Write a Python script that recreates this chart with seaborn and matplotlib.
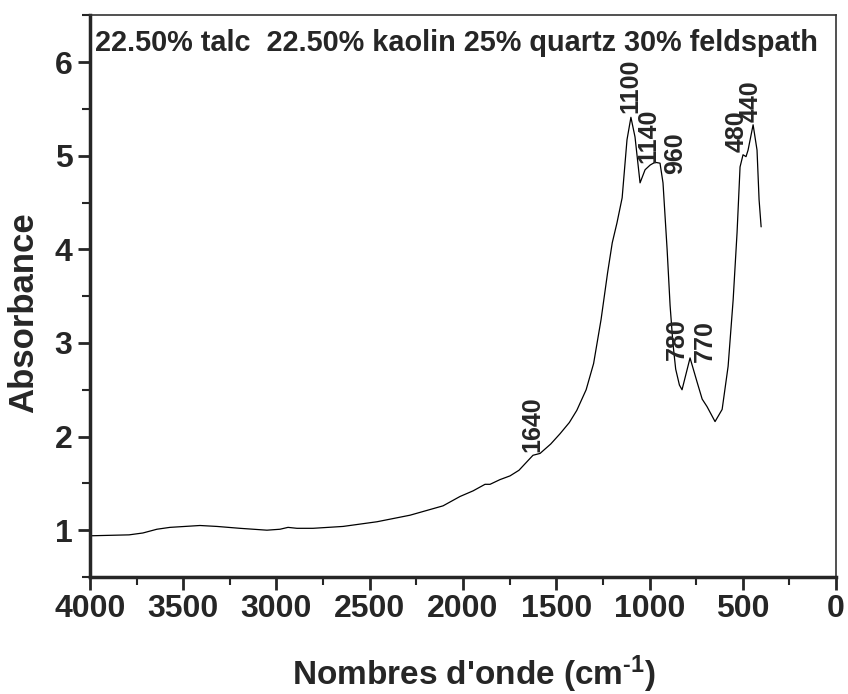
import numpy as np
import pandas as pd
import seaborn as sns
import matplotlib.pyplot as plt
from matplotlib.ticker import MultipleLocator

# spectrum (wavenumber, cm-1 -> absorbance)
wavenumber = [4000, 3790, 3716, 3641, 3571, 3410, 3319, 3196, 3051, 2981,
              2938, 2890, 2804, 2643, 2461, 2284, 2107, 2016, 1946, 1882,
              1855, 1802, 1748, 1700, 1625, 1587, 1530, 1480, 1430, 1390,
              1340, 1300, 1260, 1225, 1200, 1175, 1147, 1121, 1100, 1078,
              1051, 1024, 997, 971, 944, 928, 906, 890, 875, 860,
              840, 826, 783, 745, 718, 692, 649, 611, 579, 552,
              531, 515, 499, 483, 472, 445, 424, 413, 402]
absorbance = [0.94, 0.95, 0.97, 1.01, 1.03, 1.05, 1.04, 1.02, 1.00, 1.01,
              1.03, 1.02, 1.02, 1.04, 1.09, 1.16, 1.26, 1.36, 1.42, 1.49,
              1.49, 1.54, 1.58, 1.64, 1.80, 1.82, 1.92, 2.03, 2.15, 2.28,
              2.50, 2.78, 3.25, 3.75, 4.07, 4.28, 4.55, 5.17, 5.41, 5.20,
              4.71, 4.85, 4.90, 4.93, 4.92, 4.71, 4.00, 3.40, 3.00, 2.72,
              2.55, 2.50, 2.84, 2.58, 2.40, 2.32, 2.16, 2.29, 2.75, 3.46,
              4.18, 4.88, 5.01, 4.99, 5.06, 5.33, 5.06, 4.53, 4.24]

# band labels: text, x, y (bottom of the rotated label)
peak_labels = ['1100', '1140', '960', '480', '440', '780', '770', '1640']
peak_x = [1105, 1008, 863, 534, 456, 853, 702, 1630]
peak_y = [5.46, 4.92, 4.80, 5.04, 5.36, 2.82, 2.80, 1.83]

title_text = "22.50% talc  22.50% kaolin 25% quartz 30% feldspath"

sns.set_style("ticks")
plt.rcParams['font.family'] = ['Liberation Sans', 'DejaVu Sans']
plt.rcParams['font.weight'] = 'bold'
plt.rcParams['mathtext.fontset'] = 'custom'
plt.rcParams['mathtext.rm'] = 'Liberation Sans:bold'
plt.rcParams['mathtext.bf'] = 'Liberation Sans:bold'
plt.rcParams['mathtext.default'] = 'bf'

df = pd.DataFrame({'w': wavenumber, 'a': absorbance})

fig = plt.figure(figsize=(8.48, 6.94), dpi=100)
ax = fig.add_axes([0.106, 0.1686, 0.88, 0.8094])

sns.lineplot(data=df, x='w', y='a', sort=False, color='black', lw=0.9, ax=ax)

ax.set_xlim(4000, 0)
ax.set_ylim(0.5, 6.5)
ax.xaxis.set_major_locator(MultipleLocator(500))
ax.xaxis.set_minor_locator(MultipleLocator(250))
ax.yaxis.set_major_locator(MultipleLocator(1))
ax.yaxis.set_minor_locator(MultipleLocator(0.5))
ax.set_yticks([1, 2, 3, 4, 5, 6])

ax.tick_params(which='major', length=9, width=2, labelsize=23, direction='out')
ax.tick_params(which='minor', length=6, width=1.5, direction='out')
for lab in ax.get_xticklabels() + ax.get_yticklabels():
    lab.set_fontweight('bold')

for s in ['left', 'bottom']:
    ax.spines[s].set_linewidth(2.5)
for s in ['top', 'right']:
    ax.spines[s].set_linewidth(1.2)
    ax.spines[s].set_color('#333333')

ax.set_xlabel("Nombres d'onde (cm$^{\\text{-}1}$)", fontsize=24, fontweight='bold')
ax.xaxis.set_label_coords(0.515, -0.136)
ax.set_ylabel("Absorbance", fontsize=25, fontweight='bold')
ax.yaxis.set_label_coords(-0.066, 0.47)

ax.text(0.007, 0.975, title_text, transform=ax.transAxes, ha='left', va='top',
        fontsize=20.8, fontweight='bold')

for lab, x, y in zip(peak_labels, peak_x, peak_y):
    ax.text(x, y, lab, rotation=90, ha='center', va='bottom',
            fontsize=18, fontweight='bold')

fig.savefig('out.png', dpi=100)
